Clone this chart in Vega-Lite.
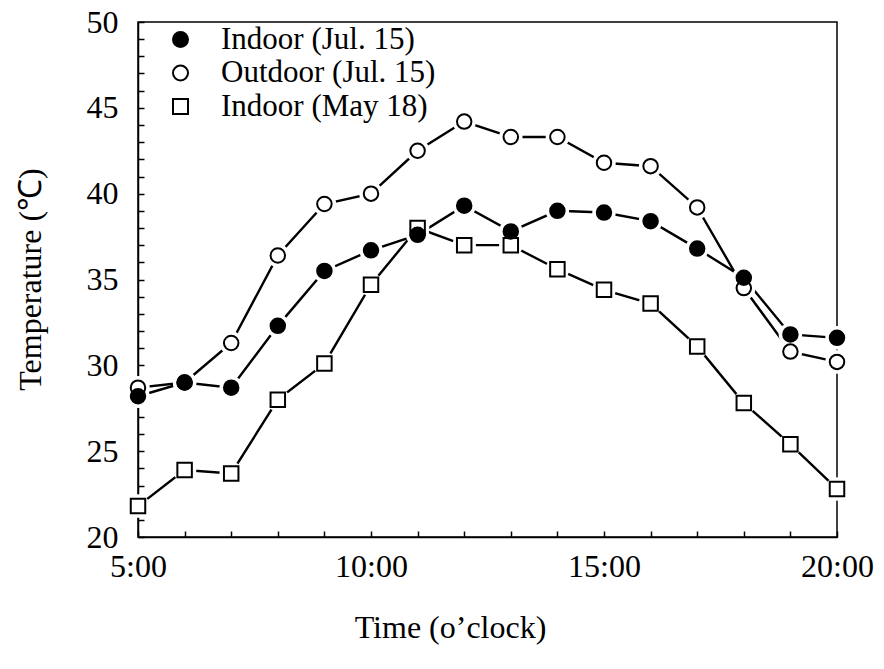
{
  "$schema": "https://vega.github.io/schema/vega-lite/v6.json",
  "width": 699,
  "height": 515,
  "autosize": {"type": "none"},
  "padding": {"left": 138, "top": 22, "right": 47, "bottom": 132},
  "background": "white",
  "config": {
    "view": {"stroke": "black", "strokeWidth": 1.5},
    "font": "Liberation Serif",
    "axis": {
      "grid": false,
      "domainColor": "black",
      "domainWidth": 1.5,
      "tickColor": "black",
      "tickWidth": 1.5,
      "labelColor": "black",
      "labelFont": "Liberation Serif",
      "labelFontSize": 32,
      "titleFont": "Liberation Serif",
      "titleFontSize": 32,
      "titleFontWeight": "normal",
      "titleColor": "black",
      "labelFlush": false,
      "labelOverlap": false,
      "labelBound": false
    },
    "legend": {
      "title": null,
      "orient": "none",
      "legendX": 8,
      "legendY": 2,
      "padding": 0,
      "rowPadding": 1.5,
      "symbolSize": 225,
      "symbolOffset": 19,
      "labelOffset": 25,
      "labelLimit": 600,
      "labelFont": "Liberation Serif",
      "labelFontSize": 31,
      "labelColor": "black",
      "symbolStrokeWidth": 2
    }
  },
  "data": {
    "values": [
      {"hour": 5, "series": "Indoor (May 18)", "temp": 21.8},
      {"hour": 6, "series": "Indoor (May 18)", "temp": 23.9},
      {"hour": 7, "series": "Indoor (May 18)", "temp": 23.7},
      {"hour": 8, "series": "Indoor (May 18)", "temp": 28.0},
      {"hour": 9, "series": "Indoor (May 18)", "temp": 30.1},
      {"hour": 10, "series": "Indoor (May 18)", "temp": 34.7},
      {"hour": 11, "series": "Indoor (May 18)", "temp": 38.0},
      {"hour": 12, "series": "Indoor (May 18)", "temp": 37.0},
      {"hour": 13, "series": "Indoor (May 18)", "temp": 37.0},
      {"hour": 14, "series": "Indoor (May 18)", "temp": 35.6},
      {"hour": 15, "series": "Indoor (May 18)", "temp": 34.4},
      {"hour": 16, "series": "Indoor (May 18)", "temp": 33.6},
      {"hour": 17, "series": "Indoor (May 18)", "temp": 31.1},
      {"hour": 18, "series": "Indoor (May 18)", "temp": 27.8},
      {"hour": 19, "series": "Indoor (May 18)", "temp": 25.4},
      {"hour": 20, "series": "Indoor (May 18)", "temp": 22.8},
      {"hour": 5, "series": "Outdoor (Jul. 15)", "temp": 28.7},
      {"hour": 6, "series": "Outdoor (Jul. 15)", "temp": 29.0},
      {"hour": 7, "series": "Outdoor (Jul. 15)", "temp": 31.3},
      {"hour": 8, "series": "Outdoor (Jul. 15)", "temp": 36.4},
      {"hour": 9, "series": "Outdoor (Jul. 15)", "temp": 39.4},
      {"hour": 10, "series": "Outdoor (Jul. 15)", "temp": 40.0},
      {"hour": 11, "series": "Outdoor (Jul. 15)", "temp": 42.5},
      {"hour": 12, "series": "Outdoor (Jul. 15)", "temp": 44.2},
      {"hour": 13, "series": "Outdoor (Jul. 15)", "temp": 43.3},
      {"hour": 14, "series": "Outdoor (Jul. 15)", "temp": 43.3},
      {"hour": 15, "series": "Outdoor (Jul. 15)", "temp": 41.8},
      {"hour": 16, "series": "Outdoor (Jul. 15)", "temp": 41.6},
      {"hour": 17, "series": "Outdoor (Jul. 15)", "temp": 39.2},
      {"hour": 18, "series": "Outdoor (Jul. 15)", "temp": 34.5},
      {"hour": 19, "series": "Outdoor (Jul. 15)", "temp": 30.8},
      {"hour": 20, "series": "Outdoor (Jul. 15)", "temp": 30.2},
      {"hour": 5, "series": "Indoor (Jul. 15)", "temp": 28.2},
      {"hour": 6, "series": "Indoor (Jul. 15)", "temp": 29.0},
      {"hour": 7, "series": "Indoor (Jul. 15)", "temp": 28.7},
      {"hour": 8, "series": "Indoor (Jul. 15)", "temp": 32.3},
      {"hour": 9, "series": "Indoor (Jul. 15)", "temp": 35.5},
      {"hour": 10, "series": "Indoor (Jul. 15)", "temp": 36.7},
      {"hour": 11, "series": "Indoor (Jul. 15)", "temp": 37.6},
      {"hour": 12, "series": "Indoor (Jul. 15)", "temp": 39.3},
      {"hour": 13, "series": "Indoor (Jul. 15)", "temp": 37.8},
      {"hour": 14, "series": "Indoor (Jul. 15)", "temp": 39.0},
      {"hour": 15, "series": "Indoor (Jul. 15)", "temp": 38.9},
      {"hour": 16, "series": "Indoor (Jul. 15)", "temp": 38.4},
      {"hour": 17, "series": "Indoor (Jul. 15)", "temp": 36.8},
      {"hour": 18, "series": "Indoor (Jul. 15)", "temp": 35.1},
      {"hour": 19, "series": "Indoor (Jul. 15)", "temp": 31.8},
      {"hour": 20, "series": "Indoor (Jul. 15)", "temp": 31.6}
    ]
  },
  "encoding": {
    "x": {
      "field": "hour",
      "type": "quantitative",
      "scale": {"domain": [5, 20], "nice": false, "zero": false},
      "axis": {
        "title": "Time (o’clock)",
        "values": [5, 6, 7, 8, 9, 10, 11, 12, 13, 14, 15, 16, 17, 18, 19, 20],
        "labelExpr": "datum.value % 5 === 0 ? datum.value + ':00' : ''",
        "tickSize": -6,
        "labelPadding": 20,
        "titleX": 312,
        "titleY": 100,
        "titleBaseline": "alphabetic",
        "titleAnchor": "middle",
        "titleAlign": "center"
      }
    },
    "y": {
      "field": "temp",
      "type": "quantitative",
      "scale": {"domain": [20, 50], "nice": false, "zero": false},
      "axis": {
        "title": "Temperature (℃)",
        "values": [20, 21, 22, 23, 24, 25, 26, 27, 28, 29, 30, 31, 32, 33, 34, 35, 36, 37, 38, 39, 40, 41, 42, 43, 44, 45, 46, 47, 48, 49, 50],
        "labelExpr": "datum.value % 5 === 0 ? datum.label : ''",
        "tickSize": -6,
        "labelPadding": 26,
        "titleX": -98,
        "titleY": 257,
        "titleAngle": -90,
        "titleBaseline": "alphabetic",
        "titleAlign": "center"
      }
    }
  },
  "layer": [
    {
      "mark": {"type": "line", "color": "black", "strokeWidth": 2.4},
      "encoding": {"detail": {"field": "series", "type": "nominal"}}
    },
    {
      "mark": {"type": "point", "shape": "circle", "filled": true, "opacity": 1, "fill": "white", "stroke": "white", "strokeWidth": 3, "size": 420}
    },
    {
      "mark": {"type": "point", "filled": true, "opacity": 1, "stroke": "black", "strokeWidth": 2, "size": 210},
      "encoding": {
        "shape": {
          "field": "series",
          "type": "nominal",
          "scale": {
            "domain": ["Indoor (Jul. 15)", "Outdoor (Jul. 15)", "Indoor (May 18)"],
            "range": ["circle", "circle", "square"]
          },
          "legend": {
            "title": null,
            "encode": {
              "symbols": {
                "stroke": {"value": "black"},
                "strokeWidth": {"value": 2},
                "opacity": {"value": 1}
              }
            }
          }
        },
        "fill": {
          "field": "series",
          "type": "nominal",
          "scale": {
            "domain": ["Indoor (Jul. 15)", "Outdoor (Jul. 15)", "Indoor (May 18)"],
            "range": ["black", "white", "white"]
          },
          "legend": {
            "title": null,
            "encode": {
              "symbols": {
                "stroke": {"value": "black"},
                "strokeWidth": {"value": 2},
                "opacity": {"value": 1}
              }
            }
          }
        }
      }
    }
  ]
}
